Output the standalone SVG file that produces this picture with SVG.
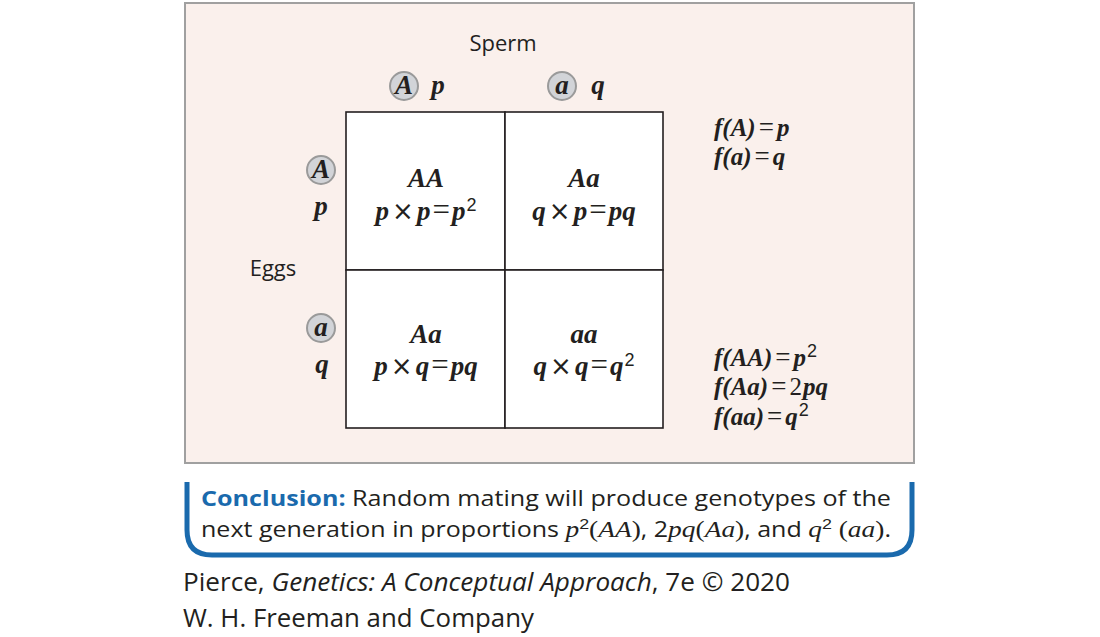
<svg xmlns="http://www.w3.org/2000/svg" width="1100" height="637" viewBox="0 0 1100 637">
<style>
.sans{font-family:"Open Sans","Liberation Sans",sans-serif;fill:#231f20}
.m{font-family:"Liberation Serif",serif;font-style:italic;font-weight:bold;font-size:27px;fill:#231f20}
.r{font-size:25px}
.up{font-style:normal;font-weight:normal}
.eq{font-style:normal;font-weight:normal;font-size:31px}
.eqr{font-style:normal;font-weight:normal;font-size:27px}
.sx{font-family:"DejaVu Sans",sans-serif;font-style:normal;font-weight:normal;font-size:26px}
.sup{font-family:"Liberation Sans",sans-serif;font-style:normal;font-weight:normal;font-size:18px}
.circ{fill:#d2d4d8;stroke:#9a9a9a;stroke-width:2}
.cell{fill:#fff;stroke:#231f20;stroke-width:1.6}
</style>
<rect width="1100" height="637" fill="#fff"/>
<g id="panel">
<rect x="185" y="3" width="729" height="460" fill="#faf0ec" stroke="#a0a0a0" stroke-width="2"/>
</g>
<g id="labels">
<text class="sans" x="503" y="51" font-size="22" text-anchor="middle">Sperm</text>
<text class="sans" x="273" y="276" font-size="22" text-anchor="middle">Eggs</text>
</g>
<g id="sperm-A">
<circle class="circ" cx="404" cy="86" r="14"/>
<text class="m" x="404" y="94" text-anchor="middle" font-size="25">A</text>
<text class="m" x="438" y="94" text-anchor="middle">p</text>
</g>
<g id="sperm-a">
<circle class="circ" cx="562" cy="86" r="14"/>
<text class="m" x="562" y="94" text-anchor="middle" font-size="25">a</text>
<text class="m" x="598" y="94" text-anchor="middle">q</text>
</g>
<g id="egg-A">
<circle class="circ" cx="321" cy="170" r="14"/>
<text class="m" x="321" y="178" text-anchor="middle" font-size="25">A</text>
<text class="m" x="321" y="215" text-anchor="middle">p</text>
</g>
<g id="egg-a">
<circle class="circ" cx="321" cy="328" r="14"/>
<text class="m" x="321" y="336" text-anchor="middle" font-size="25">a</text>
<text class="m" x="322" y="373" text-anchor="middle">q</text>
</g>
<g id="cell-AA">
<rect class="cell" x="346" y="112" width="159" height="158"/>
<text class="m" x="426" y="187" text-anchor="middle">AA</text>
<text class="m" x="426" y="220" text-anchor="middle">p<tspan class="sx" dx="3">×</tspan><tspan dx="3">p</tspan><tspan class="eq" dx="2">=</tspan><tspan dx="2">p</tspan><tspan class="sup" dx="1" dy="-9">2</tspan></text>
</g>
<g id="cell-Aa1">
<rect class="cell" x="505" y="112" width="158" height="158"/>
<text class="m" x="584" y="187" text-anchor="middle">Aa</text>
<text class="m" x="584" y="220" text-anchor="middle">q<tspan class="sx" dx="3">×</tspan><tspan dx="3">p</tspan><tspan class="eq" dx="2">=</tspan><tspan dx="2">pq</tspan></text>
</g>
<g id="cell-Aa2">
<rect class="cell" x="346" y="270" width="159" height="158"/>
<text class="m" x="426" y="343" text-anchor="middle">Aa</text>
<text class="m" x="426" y="375" text-anchor="middle">p<tspan class="sx" dx="3">×</tspan><tspan dx="3">q</tspan><tspan class="eq" dx="2">=</tspan><tspan dx="2">pq</tspan></text>
</g>
<g id="cell-aa">
<rect class="cell" x="505" y="270" width="158" height="158"/>
<text class="m" x="584" y="343" text-anchor="middle">aa</text>
<text class="m" x="584" y="375" text-anchor="middle">q<tspan class="sx" dx="3">×</tspan><tspan dx="3">q</tspan><tspan class="eq" dx="2">=</tspan><tspan dx="2">q</tspan><tspan class="sup" dx="1" dy="-9">2</tspan></text>
</g>
<g id="allele-freq">
<text class="m r" x="714" y="136">f(A)<tspan class="eqr" dx="3">=</tspan><tspan dx="3">p</tspan></text>
<text class="m r" x="714" y="165">f(a)<tspan class="eqr" dx="3">=</tspan><tspan dx="3">q</tspan></text>
</g>
<g id="genotype-freq">
<text class="m r" x="714" y="366">f(AA)<tspan class="eqr" dx="3">=</tspan><tspan dx="3">p</tspan><tspan class="sup" font-size="17" dx="1" dy="-9">2</tspan></text>
<text class="m r" x="714" y="395">f(Aa)<tspan class="eqr" dx="3">=</tspan><tspan class="up" dx="3">2</tspan><tspan dx="1">pq</tspan></text>
<text class="m r" x="714" y="425">f(aa)<tspan class="eqr" dx="3">=</tspan><tspan dx="3">q</tspan><tspan class="sup" font-size="17" dx="1" dy="-9">2</tspan></text>
</g>
<g id="conclusion">
<path d="M187,482 V530 Q187,555 212,555 H887 Q912,555 912,530 V482" fill="none" stroke="#1a6aad" stroke-width="5"/>
<text class="sans" x="201" y="506" font-size="21" textLength="690" lengthAdjust="spacingAndGlyphs"><tspan font-weight="bold" fill="#1a6aad">Conclusion:</tspan> Random mating will produce genotypes of the</text>
<text class="sans" x="201" y="537" font-size="21" textLength="690" lengthAdjust="spacingAndGlyphs">next generation in proportions <tspan font-family="Liberation Serif" font-style="italic" font-size="23">p</tspan><tspan font-family="Liberation Sans" font-size="15" dy="-8">2</tspan><tspan font-family="Liberation Serif" font-size="23" dy="8">(<tspan font-style="italic">AA</tspan>)</tspan>, 2<tspan font-family="Liberation Serif" font-style="italic" font-size="23">pq</tspan><tspan font-family="Liberation Serif" font-size="23">(<tspan font-style="italic">Aa</tspan>)</tspan>, and <tspan font-family="Liberation Serif" font-style="italic" font-size="23">q</tspan><tspan font-family="Liberation Sans" font-size="15" dy="-8">2</tspan><tspan font-family="Liberation Serif" font-size="23" dy="8"> (<tspan font-style="italic">aa</tspan>)</tspan>.</text>
</g>
<g id="credit">
<text class="sans" x="183" y="591" font-size="25" textLength="607" lengthAdjust="spacingAndGlyphs">Pierce, <tspan font-style="italic">Genetics: A Conceptual Approach</tspan>, 7e © 2020</text>
<text class="sans" x="183" y="627" font-size="25" textLength="351" lengthAdjust="spacingAndGlyphs">W. H. Freeman and Company</text>
</g>
</svg>
